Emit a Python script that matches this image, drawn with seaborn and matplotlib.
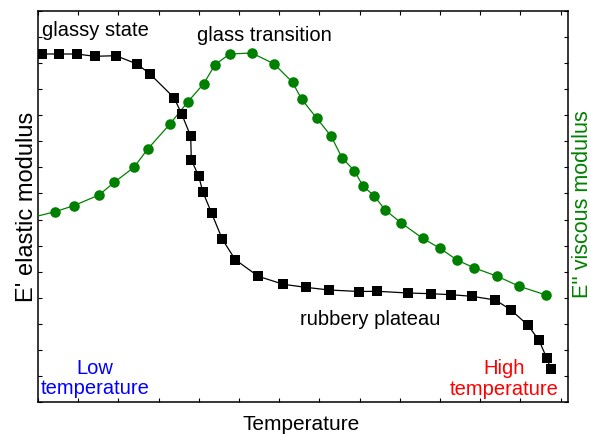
import numpy as np
import pandas as pd
import matplotlib
matplotlib.use("Agg")
import matplotlib.pyplot as plt
import seaborn as sns

# ---- data (arbitrary units) ----
elastic_T = [4.3, 21.3, 38.7, 56.7, 78, 99, 111.7, 136, 143.7, 152.7, 153.3, 160.7,
             165, 173.7, 184.3, 197.3, 220.3, 245.3, 267.5, 291.3, 321.3, 339.3,
             370, 392.7, 413.3, 434, 457.3, 472.7, 490, 501, 508.7, 512.7]
elastic_E = [348, 348, 348, 345.7, 346.3, 338, 328.3, 304.3, 288, 265.7, 242.3, 225.7,
             209.7, 188.7, 162.7, 142.3, 125.7, 117.7, 114.7, 112, 110.5, 110.7,
             109, 108.3, 107.3, 105.7, 102, 92.3, 76.7, 61.7, 44, 33]

viscous_T = [-8, 17, 35.7, 61, 76.3, 96, 109.7, 132, 149.7, 165.7, 177, 191.7, 213.8,
             236, 254.5, 263.5, 278.8, 293, 304, 316.3, 325, 336, 347.2, 363.3, 384.5,
             402, 419, 435.7, 459.3, 481.3, 508]
viscous_E = [184, 190.3, 196.3, 207, 219.7, 234.7, 253, 278, 300, 318.3, 337.3, 348, 349,
             338.2, 319.7, 303, 283.7, 266, 244.3, 231.3, 216, 206.3, 192, 179, 163.8,
             153.7, 142, 134.3, 125.7, 115.7, 107]

x_label = "Temperature"
left_label = "E' elastic modulus"
right_label = "E'' viscous modulus"

sns.set_style("ticks")
plt.rcParams["font.family"] = ["Liberation Sans", "DejaVu Sans"]
plt.rcParams["text.color"] = "black"

W, H = 591, 435
fig = plt.figure(figsize=(W / 100, H / 100), dpi=100)
ax = fig.add_axes([38 / W, (H - 403) / H, 530 / W, 391 / H])

df_e = pd.DataFrame({"T": elastic_T, "E": elastic_E})
df_v = pd.DataFrame({"T": viscous_T, "E": viscous_E})

green = "#008000"
sns.lineplot(data=df_v, x="T", y="E", ax=ax, color=green, lw=0.9, marker="o",
             markersize=7.6, markeredgewidth=0, markerfacecolor=green,
             estimator=None, sort=False, zorder=3)
sns.lineplot(data=df_e, x="T", y="E", ax=ax, color="black", lw=0.9, marker="s",
             markersize=6.6, markeredgewidth=0, markerfacecolor="black",
             estimator=None, sort=False, zorder=4)

ax.set_xlim(0, 530)
ax.set_ylim(0, 391)
ax.set_xticks(np.arange(0, 531, 40.2))
ax.set_yticks(np.linspace(0, 391, 16))
ax.tick_params(direction="in", length=3, width=0.8, color="black",
               top=True, right=True, labelbottom=False, labelleft=False)
for s in ax.spines.values():
    s.set_visible(True)
    s.set_linewidth(1.1)
    s.set_color("black")
ax.set_xlabel("")
ax.set_ylabel("")

def px(x, y):
    return x / W, 1 - y / H

fs = 14.5
fig.text(*px(42, 36), "glassy state", fontsize=fs, ha="left", va="baseline")
fig.text(*px(264.5, 41), "glass transition", fontsize=fs, ha="center", va="baseline")
fig.text(*px(300, 325), "rubbery plateau", fontsize=fs, ha="left", va="baseline")
fig.text(*px(95, 394.5), "Low\ntemperature", fontsize=fs, ha="center", va="baseline",
         multialignment="center", linespacing=1.13, color="#0000ff")
fig.text(*px(504, 395), "High\ntemperature", fontsize=fs, ha="center", va="baseline",
         multialignment="center", linespacing=1.15, color="#ff0000")

fig.text(*px(301, 430), x_label, fontsize=15, ha="center", va="baseline")
fig.text(*px(33, 206.5), left_label, fontsize=17, rotation=90, rotation_mode="anchor",
         ha="center", va="baseline")
fig.text(*px(587.5, 204.5), right_label, fontsize=15.5, rotation=90, rotation_mode="anchor",
         ha="center", va="baseline", color=green)

fig.savefig("out.png", dpi=100)
